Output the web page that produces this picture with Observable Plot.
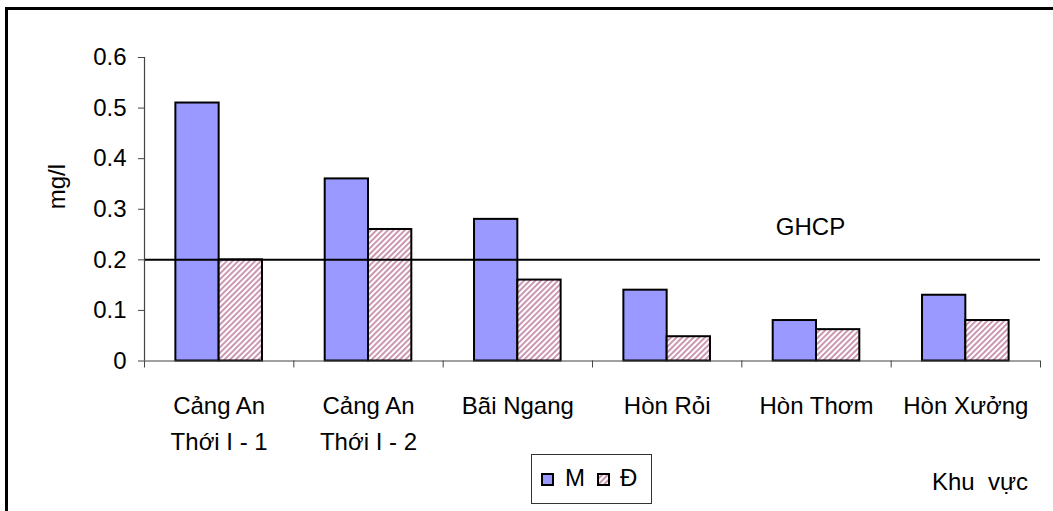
<!DOCTYPE html>
<html>
<head>
<meta charset="utf-8">
<script src="https://cdn.jsdelivr.net/npm/d3@7"></script>
<script src="https://cdn.jsdelivr.net/npm/@observablehq/plot@0.6"></script>
<style>
  html, body { margin: 0; padding: 0; background: #fff; }
  body { width: 1053px; height: 511px; position: relative; overflow: hidden;
         font-family: "Liberation Sans", Arial, sans-serif; }
  #frame { position: absolute; left: 5px; top: 7px; width: 1100px; height: 600px;
           border-left: 3px solid #000; border-top: 3px solid #000; }
  #chart { position: absolute; left: 0; top: 0; }
  #legend { position: absolute; left: 531px; top: 454px; width: 121px; height: 50px;
            border: 1px solid #333; box-sizing: border-box; background: #fff;
            font-size: 24px; color: #000; }
  .item { position: absolute; top: 9px; line-height: 28px; }
  .sw { position: absolute; top: 18px; width: 13px; height: 13px; }
  #xlabel { position: absolute; left: 932px; top: 468px; font-size: 24px; color: #000;
            white-space: pre; }
</style>
</head>
<body>
<div id="frame"></div>
<div id="chart"></div>
<div id="legend"></div>
<div id="xlabel"></div>
<script>
// ---- data ----
const categories = ["Cảng An\nThới I - 1", "Cảng An\nThới I - 2", "Bãi Ngang", "Hòn Rỏi", "Hòn Thơm", "Hòn Xưởng"];
const seriesNames = ["M", "Đ"];
const valuesM = [0.51, 0.36, 0.28, 0.14, 0.08, 0.13];
const valuesD = [0.20, 0.26, 0.16, 0.048, 0.062, 0.08];
const yTicks = [0, 0.1, 0.2, 0.3, 0.4, 0.5, 0.6];
const yTickLabels = ["0", "0.1", "0.2", "0.3", "0.4", "0.5", "0.6"];
const ghcpValue = 0.2;
const ghcpLabel = "GHCP";
const yLabel = "mg/l";
const xLabel = "Khu  vực";

// ---- table built from arrays ----
const table = [];
categories.forEach((c, i) => {
  table.push({cat: c, idx: i, series: seriesNames[0], value: valuesM[i]});
  table.push({cat: c, idx: i, series: seriesNames[1], value: valuesD[i]});
});

const groupStart = 0.21, groupEnd = 0.79, groupMid = 0.5;
const blue = "#9999FF";
const hatchColor = "#A3416F";

function hatchDefs() {
  const defs = d3.create("svg:defs");
  const p = defs.append("pattern")
    .attr("id", "hatch").attr("patternUnits", "userSpaceOnUse")
    .attr("width", 4).attr("height", 4)
    .attr("patternTransform", "rotate(45)");
  p.append("rect").attr("width", 4).attr("height", 4).attr("fill", "#fff");
  p.append("line").attr("x1", 1).attr("y1", 0).attr("x2", 1).attr("y2", 4)
    .attr("stroke", hatchColor).attr("stroke-width", 1.1);
  return defs.node();
}

const chart = Plot.plot({
  width: 1053,
  height: 450,
  marginLeft: 144,
  marginRight: 13,
  marginTop: 57,
  marginBottom: 89.5,
  style: {fontFamily: "'Liberation Sans', Arial, sans-serif", fontSize: "24px", background: "transparent", color: "#000", overflow: "visible"},
  x: {domain: [0, categories.length], axis: null},
  y: {domain: [0, 0.6], axis: null},
  marks: [
    hatchDefs,
    Plot.rectY(table.filter(d => d.series === seriesNames[0]), {
      x1: d => d.idx + groupStart, x2: d => d.idx + groupMid, y: "value",
      fill: blue, stroke: "#000", strokeWidth: 2
    }),
    Plot.rectY(table.filter(d => d.series === seriesNames[1]), {
      x1: d => d.idx + groupMid, x2: d => d.idx + groupEnd, y: "value",
      fill: "url(#hatch)", stroke: "#000", strokeWidth: 2
    }),
    Plot.ruleY([ghcpValue], {stroke: "#000", strokeWidth: 2}),
    Plot.ruleX([0], {y1: 0, y2: 0.6, stroke: "#444", strokeWidth: 1.2}),
    Plot.ruleY([0], {stroke: "#444", strokeWidth: 1.2}),
    Plot.axisY({ticks: yTicks, tickSize: 6, tickPadding: 12, tickFormat: d => yTickLabels[yTicks.indexOf(d)], label: null, stroke: "#444", fontSize: 24}),
    Plot.axisX({ticks: d3.range(0, categories.length + 1), tickSize: 7, tickFormat: () => "", label: null, stroke: "#444"}),
    Plot.axisX({ticks: categories.map((c, i) => i + 0.5), tickSize: 0, tickPadding: 27, lineHeight: 1.5,
      tickFormat: d => categories[Math.floor(d)], label: null, fontSize: 24}),
    Plot.text([ghcpValue], {y: d => d, frameAnchor: "right", text: () => ghcpLabel, textAnchor: "middle",
      dx: -230, dy: -33, fontSize: 24, fill: "#000"}),
    Plot.text([yLabel], {frameAnchor: "left", text: d => d, rotate: -90, dx: -87, fontSize: 24, fill: "#000"})
  ]
});
document.getElementById("chart").appendChild(chart);

// ---- legend ----
const legend = document.getElementById("legend");
legend.innerHTML = `
  <div class="sw" style="left:9px;background:${blue};border:2px solid #000;box-sizing:border-box;"></div>
  <div class="item" style="left:33px;">${seriesNames[0]}</div>
  <svg class="sw" style="left:65px;" width="13" height="13"><rect x="1" y="1" width="11" height="11" fill="url(#hatch)" stroke="#000" stroke-width="2"/></svg>
  <div class="item" style="left:88px;">${seriesNames[1]}</div>`;
document.getElementById("xlabel").textContent = xLabel;
</script>
</body>
</html>
